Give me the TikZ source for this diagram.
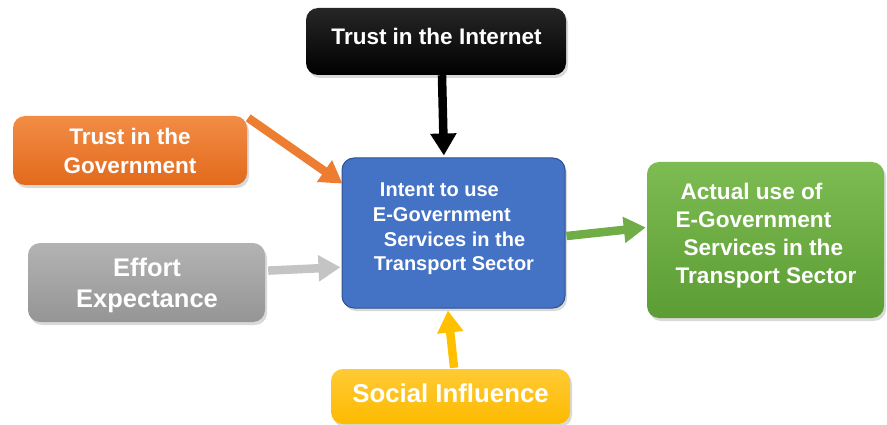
\documentclass[tikz,border=0pt]{standalone}
\usepackage{fontspec}
\setmainfont{Liberation Sans}
\usetikzlibrary{arrows.meta,shadows,calc}
\definecolor{cOrange}{HTML}{ED7D31}
\definecolor{cOrangeT}{HTML}{F28C45}
\definecolor{cOrangeB}{HTML}{E26A1C}
\definecolor{cGrayT}{HTML}{B3B3B3}
\definecolor{cGrayB}{HTML}{959595}
\definecolor{cGrayA}{HTML}{C4C4C4}
\definecolor{cBlue}{HTML}{4472C4}
\definecolor{cBlueD}{HTML}{2F528F}
\definecolor{cGreen}{HTML}{70AD47}
\definecolor{cGreenT}{HTML}{7CBC52}
\definecolor{cGreenB}{HTML}{5C9C34}
\definecolor{cYellow}{HTML}{FFC000}
\definecolor{cYellowT}{HTML}{FFCA35}
\definecolor{cYellowB}{HTML}{FDBA00}
\tikzset{
  box/.style={rectangle, rounded corners=12pt, inner sep=0pt,
    drop shadow={opacity=0.3, shadow xshift=2pt, shadow yshift=-3pt}},
  lbl/.style={text=white, font=\bfseries, inner sep=0pt},
  conn/.style={line width=8.5pt, -{Triangle[width=25pt,length=22pt]}}
}
\begin{document}
\begin{tikzpicture}[x=1pt,y=-1pt]
\useasboundingbox (0,0) rectangle (887,425);
% boxes
\node[box, top color=black!85, bottom color=black, minimum width=260pt, minimum height=67pt] (inet) at (436,41.5) {};
\node[box, top color=cOrangeT, bottom color=cOrangeB, minimum width=234pt, minimum height=69pt] (gov) at (130,150.5) {};
\node[box, top color=cGrayT, bottom color=cGrayB, minimum width=237pt, minimum height=79pt] (eff) at (146.5,282.5) {};
\node[box, fill=cBlue, draw=cBlueD, line width=1pt, minimum width=223pt, minimum height=150pt] (intent) at (453.5,233) {};
\node[box, top color=cGreenT, bottom color=cGreenB, minimum width=237pt, minimum height=156pt] (actual) at (765.5,240) {};
\node[box, top color=cYellowT, bottom color=cYellowB, minimum width=239pt, minimum height=55pt] (soc) at (450.5,396.5) {};
% texts
\node[lbl, font=\bfseries\fontsize{22.5}{27}\selectfont] (tinet) at (436.5,36) {Trust in the Internet};
\node[lbl, font=\bfseries\fontsize{22.5}{29}\selectfont, align=center] (tgov) at (130,151) {Trust in the\\Government};
\node[lbl, font=\bfseries\fontsize{25.5}{31}\selectfont, align=center] (teff) at (147,285) {Effort\\Expectance};
\node[lbl, font=\bfseries\fontsize{20}{24.7}\selectfont, align=left] (tintent) at (453.5,229)
  {\hspace*{7pt}Intent to use\\E-Government\\\hspace*{11pt}Services in the\\\hspace*{1pt}Transport Sector};
\node[lbl, font=\bfseries\fontsize{22.6}{28}\selectfont, align=left] (tactual) at (766,236)
  {\hspace*{5pt}Actual use of\\E-Government\\\hspace*{8pt}Services in the\\Transport Sector};
\node[lbl, font=\bfseries\fontsize{25.8}{30}\selectfont] (tsoc) at (450.5,393) {Social Influence};
% connectors
\draw[conn, black] ($(inet.south west)!0.523!(inet.south east)$) -- ($(intent.north west)!0.457!(intent.north east)+(0,-2)$);
\draw[conn, cOrange] ($(gov.north east)!0.03!(gov.south east)+(1,0)$) -- ($(intent.north west)!0.173!(intent.south west)+(1,0)$);
\draw[conn, cGrayA] ($(eff.north east)!0.35!(eff.south east)+(3,0)$) -- ($(intent.north west)!0.727!(intent.south west)+(-1,0)$);
\draw[conn, cGreen] ($(intent.north east)!0.52!(intent.south east)+(1,0)$) -- ($(actual.north west)!0.42!(actual.south west)+(-1,0)$);
\draw[conn, cYellow] ($(soc.north west)!0.515!(soc.north east)+(0,-1)$) -- ($(intent.south west)!0.475!(intent.south east)+(0,2)$);
\end{tikzpicture}
\end{document}
